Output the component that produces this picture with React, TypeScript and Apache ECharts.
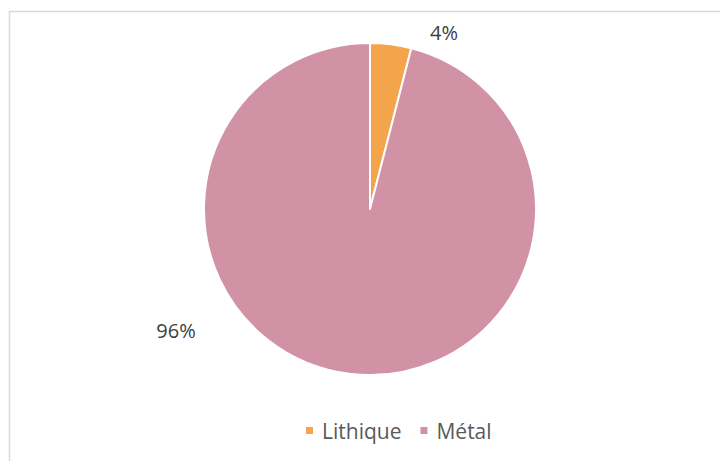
import React, { useEffect, useRef } from "react";
import * as echarts from "echarts";

const categories = ["Lithique", "Métal"];
const values = [4, 96];
const colors = ["#F4A54B", "#D192A6"];

export default function App() {
  const ref = useRef<HTMLDivElement>(null);
  useEffect(() => {
    if (!ref.current) return;
    const chart = echarts.init(ref.current, null, { renderer: "svg" });
    const font = "'Open Sans', sans-serif";
    const labelPos = [
      { x: 444, y: 32 },
      { x: 176, y: 330 },
    ];
    chart.setOption({
      animation: false,
      backgroundColor: "#ffffff",
      textStyle: { fontFamily: font },
      graphic: [
        {
          type: "rect",
          shape: { x: 9.5, y: 11.5, width: 760, height: 500 },
          style: { fill: "none", stroke: "#D9D9D9", lineWidth: 1.5 },
          silent: true,
        },
      ],
      legend: {
        data: categories,
        left: 299,
        top: 415,
        icon: "rect",
        itemWidth: 9,
        itemHeight: 9,
        itemGap: 17,
        textStyle: { color: "#595959", fontSize: 21, fontFamily: font, padding: [0, 0, 0, 3] },
      },
      series: [
        {
          type: "pie",
          center: [370, 209],
          radius: 166,
          startAngle: 90,
          clockwise: true,
          data: categories.map((name, i) => ({
            name,
            value: values[i],
            itemStyle: { color: colors[i] },
          })),
          itemStyle: { borderColor: "#ffffff", borderWidth: 2 },
          label: {
            show: true,
            position: "outside",
            formatter: (p: any) => `${p.value}%`,
            color: "#404040",
            fontSize: 20,
            fontFamily: font,
          },
          labelLine: { show: false },
          labelLayout: (params: any) => ({
            x: labelPos[params.dataIndex].x,
            y: labelPos[params.dataIndex].y,
            align: "center",
            verticalAlign: "middle",
          }),
          emphasis: { disabled: true },
        },
      ],
    });
    return () => chart.dispose();
  }, []);
  return (
    <div
      ref={ref}
      style={{ position: "absolute", left: 0, top: 0, width: 720, height: 461 }}
    />
  );
}
